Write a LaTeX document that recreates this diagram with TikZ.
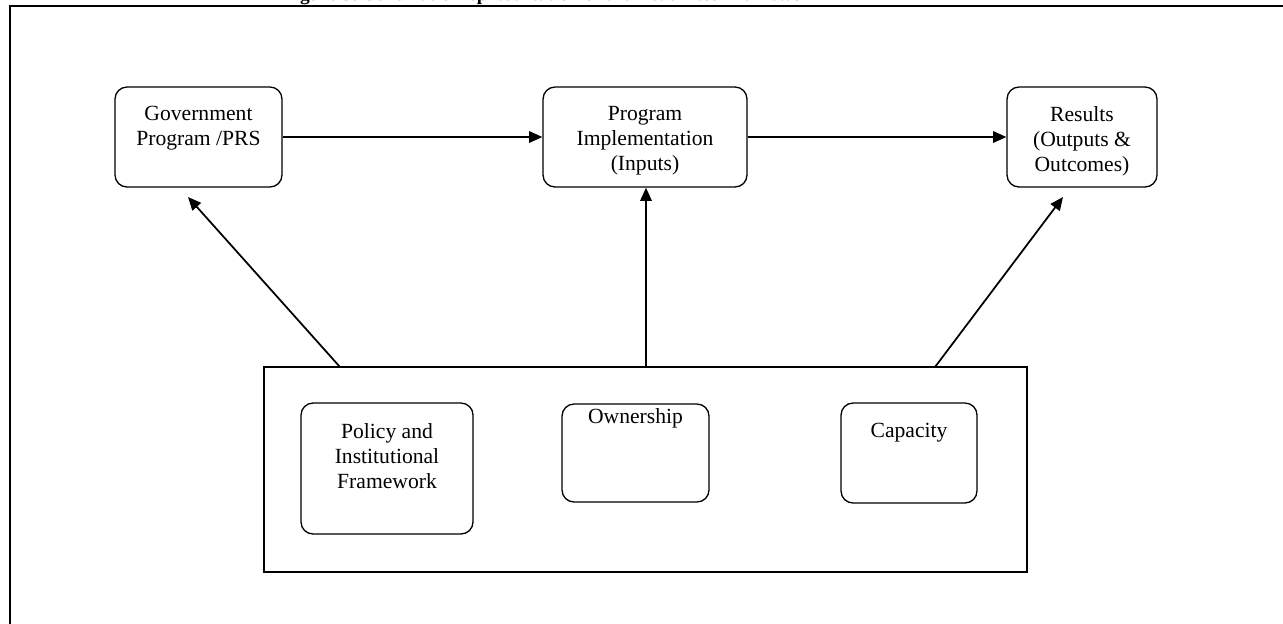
\documentclass[tikz,border=0pt]{standalone}
\usepackage{fontspec}
\setmainfont{Liberation Serif}
\usetikzlibrary{arrows.meta}
\tikzset{
  px/.style={x=0.02cm,y=-0.02cm},
  rbox/.style={draw,line width=0.75pt,rounded corners=0.24cm,inner sep=0pt},
  sbox/.style={draw,line width=0.85pt,inner sep=0pt},
  txt/.style={align=center,inner sep=0pt,anchor=north,font=\fontsize{12.3}{14.2}\selectfont},
  conn/.style={line width=1pt,-{Triangle[length=7.5pt,width=6.5pt]}},
  frameline/.style={line width=1.15pt}
}
\begin{document}
\begin{tikzpicture}[px]
\useasboundingbox (0,0) rectangle (1283,623);
% title (mostly cut off by the page edge)
\node[anchor=base,inner sep=0pt,font=\fontsize{11}{13}\selectfont\bfseries] (title) at (552,0.3) {Figure 3: Schematic Representation of the Readiness Framework};
% outer frame
\coordinate (fa) at (1300,6);
\coordinate (fb) at (10,6);
\coordinate (fc) at (10,650);
\draw[frameline] (fa) -- (fb) -- (fc);
% top boxes
\node[rbox,minimum width=3.34cm,minimum height=2cm] (gov) at (198.5,137) {};
\node[rbox,minimum width=4.08cm,minimum height=2cm] (impl) at (645,137) {};
\node[rbox,minimum width=3.0cm,minimum height=2cm] (res) at (1082,137) {};
\node[txt] (govt) at (198.5,105.5) {Government\\Program /PRS};
\node[txt] (implt) at (645,106) {Program\\Implementation\\(Inputs)};
\node[txt] (rest) at (1082,106) {Results\\(Outputs \&\\Outcomes)};
% bottom container
\node[sbox,minimum width=15.26cm,minimum height=4.1cm] (base) at (645.5,469.5) {};
\node[rbox,minimum width=3.44cm,minimum height=2.62cm] (pol) at (387,468.5) {};
\node[rbox,minimum width=2.94cm,minimum height=1.96cm] (own) at (635.5,453) {};
\node[rbox,minimum width=2.72cm,minimum height=2.0cm] (cap) at (909,453) {};
\node[txt] (polt) at (387,423) {Policy and\\Institutional\\Framework};
\node[txt] (ownt) at (635.5,408) {Ownership};
\node[txt] (capt) at (909,423) {Capacity};
% connectors
\draw[conn] (gov.east) -- (impl.west);
\draw[conn] (impl.east) -- (res.west);
\coordinate (s1) at (340,367);
\coordinate (s2) at (646,367);
\coordinate (s3) at (935,367);
\coordinate (e1) at (188,197);
\coordinate (e3) at (1063,197);
\draw[conn] (s1) -- (e1);
\draw[conn] (s2) -- (s2 |- impl.south);
\draw[conn] (s3) -- (e3);
\end{tikzpicture}
\end{document}
